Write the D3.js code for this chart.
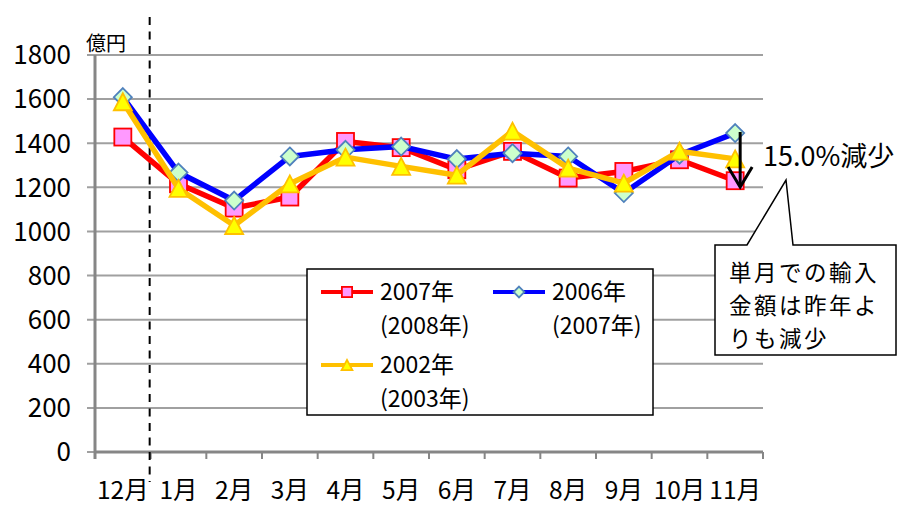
<!DOCTYPE html>
<html><head><meta charset="utf-8">
<script src="https://cdn.jsdelivr.net/npm/d3@7"></script>
<style>
html,body{margin:0;padding:0;background:#fff;}
svg text{font-family:"Noto Sans CJK JP","Noto Sans",sans-serif;fill:#000;}
</style></head>
<body>
<svg id="chart" width="897" height="505"></svg>
<script>
const categories = ["12月","1月","2月","3月","4月","5月","6月","7月","8月","9月","10月","11月"];
const yTicks = [0,200,400,600,800,1000,1200,1400,1600,1800];
const s2007 = [1428,1216,1106,1156,1408,1380,1280,1363,1242,1272,1325,1230];
const s2006 = [1609,1267,1140,1340,1370,1385,1328,1355,1340,1174,1348,1446];
const s2002 = [1588,1195,1027,1216,1337,1295,1255,1455,1287,1219,1364,1329];
const seriesNames = [["2007年","(2008年)"],["2006年","(2007年)"],["2002年","(2003年)"]];
const unitLabel = "億円";
const noteValue = "15.0%減少";
const calloutLines = ["単月での輸入","金額は昨年よ","りも減少"];

const svg = d3.select("#chart");
const L = 95, R = 763, T = 55, B = 452;
const x = d3.scaleBand().domain(categories).range([L, R]).padding(0);
const y = d3.scaleLinear().domain([0, 1800]).range([B, T]);
const cx = c => x(c) + x.bandwidth()/2;

// gridlines
svg.append("g").selectAll("line").data(yTicks).join("line")
  .attr("x1", L-8).attr("x2", R).attr("y1", d=>y(d)).attr("y2", d=>y(d))
  .attr("stroke", "#a0a0a0").attr("stroke-width", 2);

// y axis
const yAxis = d3.axisLeft(y).tickValues(yTicks).tickFormat(d3.format("d")).tickSize(0).tickPadding(0);
const gy = svg.append("g").attr("transform", `translate(71,0)`).call(yAxis);
gy.select(".domain").remove();
gy.selectAll("text").attr("font-size", 26).attr("dy", "0.34em").attr("x", 0);

svg.append("line").attr("x1", L).attr("x2", L).attr("y1", T).attr("y2", B+7)
  .attr("stroke", "#868686").attr("stroke-width", 3);

// x axis
const xAxis = d3.axisBottom(x).tickSize(0).tickPadding(0);
const gx = svg.append("g").attr("transform", `translate(0,${B})`).call(xAxis);
gx.select(".domain").remove();
gx.selectAll("text").attr("font-size", 24.5).attr("y", 38).attr("dy", "0.35em");
svg.append("line").attr("x1", L).attr("x2", R).attr("y1", B).attr("y2", B)
  .attr("stroke", "#868686").attr("stroke-width", 3);
const bounds = categories.map(c => x(c)).concat([R]);
svg.append("g").selectAll("line").data(bounds).join("line")
  .attr("x1", d=>d).attr("x2", d=>d).attr("y1", B).attr("y2", B+7)
  .attr("stroke", "#868686").attr("stroke-width", 2);

// unit label
svg.append("text").attr("x", 86).attr("y", 51).attr("font-size", 20).text(unitLabel);

// dashed separator
const sepX = x(categories[1]) - 1;
svg.append("line").attr("x1", sepX).attr("x2", sepX).attr("y1", 17).attr("y2", 482)
  .attr("stroke", "#000").attr("stroke-width", 2).attr("stroke-dasharray", "8,6.5");

// series
const series = [
  {vals: s2007, color: "#ff0000", marker: "square"},
  {vals: s2006, color: "#0000ff", marker: "diamond"},
  {vals: s2002, color: "#ffc000", marker: "triangle"}
];
function drawMarker(g, type, px, py, scale) {
  const k = scale || 1;
  if (type === "square") {
    const s = 17*k;
    g.append("rect").attr("x", px - s/2).attr("y", py - s/2).attr("width", s).attr("height", s)
      .attr("fill", "#ff99ff").attr("stroke", "#ff0000").attr("stroke-width", 1.8);
  } else if (type === "diamond") {
    const s = 9*k;
    g.append("path").attr("d", `M${px},${py-s}L${px+s},${py}L${px},${py+s}L${px-s},${py}Z`)
      .attr("fill", "#ccffcc").attr("stroke", "#4f81bd").attr("stroke-width", 1.8);
  } else {
    const w = 18*k, h = 17*k;
    g.append("path").attr("d", `M${px},${py-h/2}L${px+w/2},${py+h/2}L${px-w/2},${py+h/2}Z`)
      .attr("fill", "#ffff00").attr("stroke", "#ffc000").attr("stroke-width", 1.8)
      .attr("stroke-linejoin", "miter");
  }
}
const line = d3.line().x((d,i)=>cx(categories[i])).y(d=>y(d));
series.forEach(s => {
  const g = svg.append("g");
  g.append("path").attr("d", line(s.vals)).attr("fill", "none")
    .attr("stroke", s.color).attr("stroke-width", 5.5).attr("stroke-linejoin", "round");
  s.vals.forEach((v,i) => drawMarker(g, s.marker, cx(categories[i]), y(v)));
});

// legend
const lg = svg.append("g");
lg.append("rect").attr("x", 307).attr("y", 269).attr("width", 346).attr("height", 146)
  .attr("fill", "#fff").attr("stroke", "#000").attr("stroke-width", 1.5);
const legendPos = [[321, 292], [493, 292], [321, 365]];
series.forEach((s, i) => {
  const [lx, ly] = legendPos[i];
  lg.append("line").attr("x1", lx).attr("x2", lx+52).attr("y1", ly).attr("y2", ly)
    .attr("stroke", s.color).attr("stroke-width", 4);
  drawMarker(lg, s.marker, lx+26, ly, 0.6);
  lg.append("text").attr("x", lx+59).attr("y", ly).attr("dy", "0.35em").attr("font-size", 23).text(seriesNames[i][0]);
  lg.append("text").attr("x", lx+59).attr("y", ly+34).attr("dy", "0.35em").attr("font-size", 23).text(seriesNames[i][1]);
});

// arrow
const ax = cx(categories[11]) + 5;
svg.append("line").attr("x1", ax).attr("x2", ax).attr("y1", 132).attr("y2", 186)
  .attr("stroke", "#000").attr("stroke-width", 3);
svg.append("path").attr("d", `M${ax-12},${167}L${ax},${187}L${ax+12},${167}`)
  .attr("fill", "none").attr("stroke", "#000").attr("stroke-width", 3);

svg.append("text").attr("x", 763).attr("y", 157).attr("dy", "0.35em").attr("font-size", 27).text(noteValue);

// callout
svg.append("path")
  .attr("d", "M747,245L715,245L715,355L896,355L896,245L793,245L786,180Z")
  .attr("fill", "#fff").attr("stroke", "#000").attr("stroke-width", 1.5);
calloutLines.forEach((t, i) => {
  svg.append("text").attr("x", 729).attr("y", 273 + i*33).attr("dy", "0.35em")
    .attr("font-size", 22.5).attr("letter-spacing", 2.5).text(t);
});
</script>
</body></html>
